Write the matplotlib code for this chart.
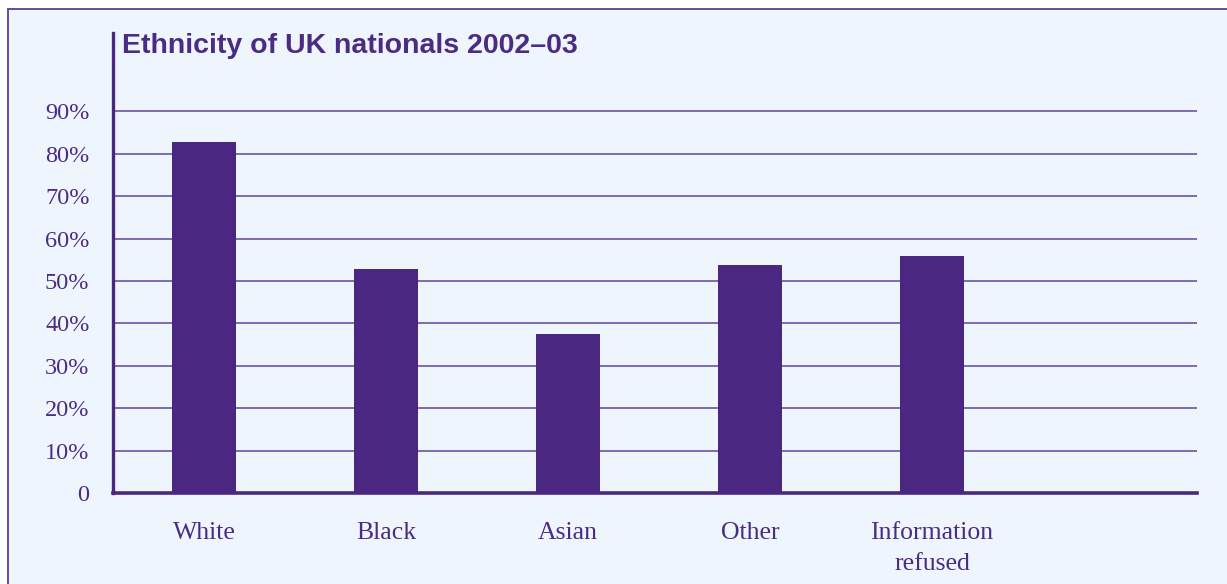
import matplotlib
matplotlib.use("Agg")
import matplotlib.pyplot as plt
from matplotlib.patches import Rectangle

categories = ["White", "Black", "Asian", "Other", "Information\nrefused"]
values = [82.8, 52.8, 37.5, 53.8, 55.9]
yticks = [0, 10, 20, 30, 40, 50, 60, 70, 80, 90]
ytick_labels = ["0", "10%", "20%", "30%", "40%", "50%", "60%", "70%", "80%", "90%"]
title = "Ethnicity of UK nationals 2002\u201303"

W, H = 1227, 584
purple = "#4a2882"
text_col = "#4b2c85"
grid_col = "#5e479c"
bg = "#eef5fc"

fig = plt.figure(figsize=(W / 100, H / 100), dpi=100)
fig.patch.set_facecolor("white")
fig.patches.append(Rectangle((8 / W, -0.1), 1.2, (H - 9) / H + 0.1, transform=fig.transFigure,
                             facecolor=bg, edgecolor="#5a3f96", linewidth=1.3, zorder=-5))

ax = fig.add_axes([113 / W, (H - 493) / H, (1197 - 113) / W, (493 - 33) / H])
ax.set_zorder(2)
ax.set_facecolor("none")
x = list(range(len(categories)))
ax.bar(x, values, width=0.35, color=purple, zorder=3)
ax.set_xlim(-0.5, 5.456)
ax.set_ylim(0, 108.5)
ax.set_yticks(yticks)
ax.set_yticklabels(ytick_labels)
ax.set_xticks(x)
ax.set_xticklabels(categories, multialignment="center", linespacing=1.5)
for t in yticks[1:]:
    ax.axhline(t, color=grid_col, linewidth=1.1, zorder=1)
for s in ["top", "right"]:
    ax.spines[s].set_visible(False)
ax.spines["left"].set_color(purple)
ax.spines["left"].set_linewidth(2.4)
ax.spines["bottom"].set_color(purple)
ax.spines["bottom"].set_linewidth(2.6)
ax.tick_params(axis="both", length=0, colors=text_col)
ax.tick_params(axis="y", pad=17, labelsize=17.5)
ax.tick_params(axis="x", pad=21, labelsize=18.5)
for lab in ax.get_xticklabels() + ax.get_yticklabels():
    lab.set_fontfamily("Liberation Serif")
    lab.set_color(text_col)

fig.text(122 / W, 1 - 46 / H, title, fontsize=20.5, fontweight="bold", color=text_col,
         family="Liberation Sans", va="center", ha="left", zorder=5)

fig.savefig("out.png", dpi=100)
